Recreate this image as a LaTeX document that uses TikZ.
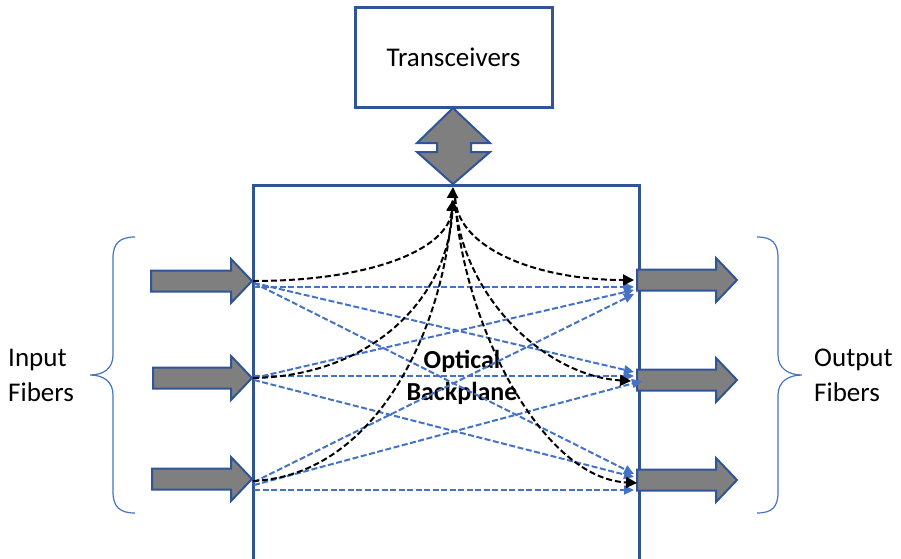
\documentclass[tikz,border=0pt]{standalone}
\usepackage{fontspec}
\setmainfont{Carlito}
\usetikzlibrary{arrows.meta}
\definecolor{boxblue}{HTML}{2F5597}
\definecolor{lineblue}{HTML}{4472C4}
\definecolor{fatgray}{HTML}{7F7F7F}
\tikzset{
  frame/.style={draw=boxblue, line width=3pt},
  fat/.style={draw=boxblue, fill=fatgray, line width=2pt, line join=miter},
  blk/.style={draw=black, line width=2pt, dash pattern=on 6pt off 3pt, -{Triangle[length=11pt,width=11pt]}},
  blu/.style={draw=lineblue, line width=2pt, dash pattern=on 6pt off 2.5pt, -{Triangle[length=10pt,width=9pt]}},
  brace/.style={draw=lineblue, line width=1.2pt},
  lbl/.style={font=\fontsize{27}{35}\selectfont, align=left, anchor=west, inner sep=0pt},
}
\newcommand{\myfatarrow}[3]{% x start, y centre, x tip
  \draw[fat] (#1,#2-10.5) -- (#3-21,#2-10.5) -- (#3-21,#2-22) -- (#3,#2) -- (#3-21,#2+22) -- (#3-21,#2+10.5) -- (#1,#2+10.5) -- cycle;}
\begin{document}
\begin{tikzpicture}[x=1pt,y=-1pt]
\useasboundingbox (0,0) rectangle (901,558);
\clip (0,0) rectangle (901,558);

% Transceivers box
\node[frame, minimum width=197pt, minimum height=100pt, inner sep=0pt,
      font=\fontsize{27}{32}\selectfont] (trx) at (453.5,57) {Transceivers};

% double arrow
\draw[fat] (453,108) -- (490,143) -- (471,143) -- (471,152) -- (490,152) -- (453,184)
  -- (417,152) -- (437,152) -- (437,143) -- (417,143) -- cycle;

% main box (bottom cut by the picture edge)
\node[frame, minimum width=386pt, minimum height=400pt, inner sep=0pt, anchor=north west] (bp) at (252,184) {};
\node[font=\bfseries\fontsize{26}{32}\selectfont, align=center] (lab) at (462,377) {Optical\\Backplane};

% fat arrows
\myfatarrow{151}{281}{252}
\myfatarrow{153}{378}{252}
\myfatarrow{152}{479}{252}
\myfatarrow{637}{280}{737}
\myfatarrow{637}{380}{737}
\myfatarrow{637}{480}{737}

% named end points
\coordinate (in1) at (253,281);
\coordinate (in2) at (253,378);
\coordinate (in3) at (253,481);
\coordinate (topA) at (453,187);
\coordinate (topB) at (453,200);
\coordinate (topS) at (455,198);
\coordinate (out1) at (634,280);
\coordinate (out2) at (631,381);
\coordinate (out3) at (637,483);

% blue paths
\draw[blu] (254,287) -- (634,287);
\draw[blu] (254,283) -- (634,372);
\draw[blu] (254,283) -- (634,474);
\draw[blu] (254,378) -- (634,290);
\draw[blu] (254,376) -- (634,376);
\draw[blu] (254,380) -- (634,477);
\draw[blu] (254,482) -- (634,294);
\draw[blu] (254,485) -- (642,381);
\draw[blu] (254,490) -- (634,490);

% black curves
\draw[blk] (in1) .. controls (370,281) and (448,250) .. (topB);
\draw[blk] (in2) .. controls (370,376) and (448,300) .. (topB);
\draw[blk] (in3) .. controls (380,475) and (448,320) .. (topA);
\draw[blk] (topS) .. controls (458,250) and (540,280) .. (out1);
\draw[blk] (topS) .. controls (460,295) and (545,376) .. (out2);
\draw[blk] (topS) .. controls (462,320) and (540,478) .. (out3);

% braces
\draw[brace] (135,237) .. controls (120,237) and (113,243) .. (113,258) -- (113,355)
  .. controls (113,368) and (104,375) .. (90,375)
  .. controls (104,375) and (113,382) .. (113,395) -- (113,492)
  .. controls (113,507) and (120,513) .. (135,513);
\draw[brace] (757,237) .. controls (772,237) and (778,243) .. (778,258) -- (778,355)
  .. controls (778,368) and (788,375) .. (802,375)
  .. controls (788,375) and (778,382) .. (778,395) -- (778,492)
  .. controls (778,507) and (772,513) .. (757,513);

% side labels
\node[lbl] (inl) at (8,375) {Input\\Fibers};
\node[lbl] (outl) at (814,375) {Output\\Fibers};
\end{tikzpicture}
\end{document}
